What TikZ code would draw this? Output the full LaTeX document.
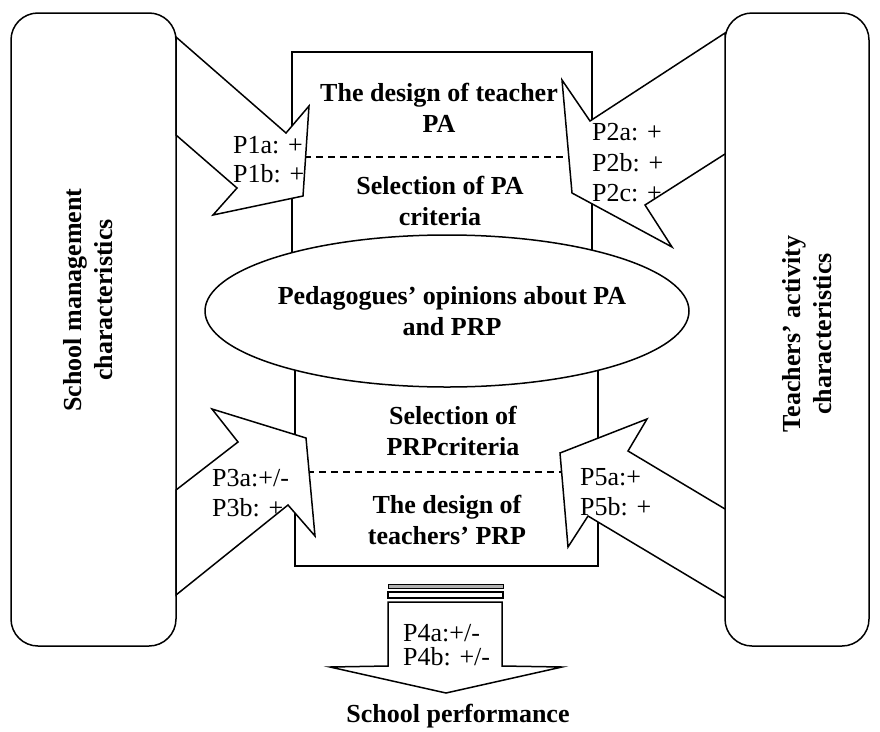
\documentclass[tikz,border=0pt]{standalone}
\usepackage{fontspec}
\setmainfont{Liberation Serif}
\usetikzlibrary{shapes.geometric}
\begin{document}
\begin{tikzpicture}[x=1pt,y=-1pt,
  ln/.style={line width=1.5pt},
  fat/.style={draw, fill=white, line width=1.5pt, line join=miter},
  boldtxt/.style={font=\fontsize{26}{31}\selectfont\bfseries, align=center, inner sep=0pt},
  plaintxt/.style={font=\fontsize{26}{31}\selectfont, anchor=base west, inner sep=0pt},
  dashline/.style={line width=1.2pt, dash pattern=on 7pt off 5pt}]
\useasboundingbox (0,0) rectangle (880,731);
% side boxes
\draw[ln, rounded corners=27pt] (11,13) rectangle (176,646);
\draw[ln, rounded corners=27pt] (725,13) rectangle (869,646);
\node[boldtxt, rotate=90] (lefttxt) at (88,300) {School management\\characteristics};
\node[boldtxt, rotate=90] (righttxt) at (807,334) {Teachers’ activity\\characteristics};
% central rectangles
\draw[ln] (292,52) rectangle (592,300);
\draw[ln] (295,330) rectangle (598,566);
\draw[dashline] (292,157) -- (592,157);
\draw[dashline] (295,472) -- (598,472);
% ellipse
\node[ellipse, draw, ln, fill=white, minimum width=484pt, minimum height=152pt, inner sep=0pt] (ell) at (447,311) {};
\node[boldtxt] (elltxt) at (452,311) {Pedagogues’ opinions about PA\\and PRP};
% arrows
\draw[fat] (176,37) -- (286,133) -- (309,106) -- (303,196) -- (213,215) -- (237,188) -- (176,135) -- cycle;
\draw[fat] (725,33) -- (590,121) -- (562,80) -- (572,193) -- (672,247) -- (645,205) -- (725,154) -- cycle;
\draw[fat] (176,490) -- (238,442) -- (212,409) -- (306,438) -- (315,536) -- (288,505) -- (176,595) -- cycle;
\draw[fat] (725,509) -- (628,451) -- (647,419) -- (560,453) -- (568,547) -- (588,516) -- (725,598) -- cycle;
% bottom arrow
\draw[line width=1pt, fill=gray!60] (388,584.5) rectangle (503,588.5);
\draw[line width=1.2pt, fill=white] (388,592) rectangle (503,598);
\draw[fat] (388,602) -- (502,602) -- (502,666) -- (562,667) -- (446,693) -- (330,667) -- (388,666) -- cycle;
% box texts
\node[boldtxt] (t1) at (439,108) {The design of teacher\\PA};
\node[boldtxt] (t2) at (440,201) {Selection of PA\\criteria};
\node[boldtxt] (t3) at (453,431) {Selection of\\PRPcriteria};
\node[boldtxt] (t4) at (447,520) {The design of\\teachers’ PRP};
\node[boldtxt] (t5) at (458,716) {School performance};
% P labels
\node[plaintxt] (p1a) at (233,153) {P1a: +};
\node[plaintxt] (p1b) at (233,182) {P1b: +};
\node[plaintxt] (p2a) at (592,140) {P2a: +};
\node[plaintxt] (p2b) at (592,171) {P2b: +};
\node[plaintxt] (p2c) at (592,201) {P2c: +};
\node[plaintxt] (p3a) at (212,486) {P3a:+/-};
\node[plaintxt] (p3b) at (212,516) {P3b: +};
\node[plaintxt] (p5a) at (580,485) {P5a:+};
\node[plaintxt] (p5b) at (580,515) {P5b: +};
\node[plaintxt] (p4a) at (403,641) {P4a:+/-};
\node[plaintxt] (p4b) at (403,665) {P4b: +/-};
\end{tikzpicture}
\end{document}
